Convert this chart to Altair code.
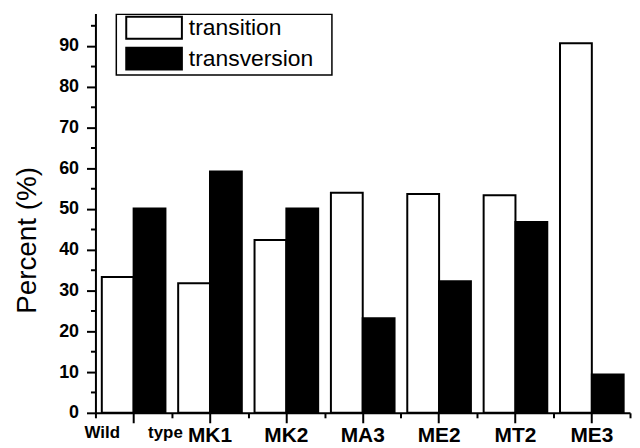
import altair as alt
import pandas as pd

strains = ["Wild type", "MK1", "MK2", "MA3", "ME2", "MT2", "ME3"]
series = ["transition", "transversion"]
transition = [33.3, 31.8, 42.4, 54.0, 53.7, 53.4, 90.7]
transversion = [50.1, 59.2, 50.1, 23.2, 32.3, 46.8, 9.4]
y_major = [0, 10, 20, 30, 40, 50, 60, 70, 80, 90]
y_minor = [5, 15, 25, 35, 45, 55, 65, 75, 85, 95]

rows = []
for i, s in enumerate(strains):
    rows.append({"strain": s, "type": "transition", "pct": transition[i]})
    rows.append({"strain": s, "type": "transversion", "pct": transversion[i]})
df = pd.DataFrame(rows)

FONT = "Liberation Sans"
NB = "\u00a0"
wild_label = "Wild" + NB * 6 + "type"
label_expr = f"datum.value == 'Wild type' ? '{wild_label}' : datum.label"

x_scale = alt.Scale(domain=strains, paddingInner=0, paddingOuter=0)
y_scale = alt.Scale(domain=[0, 98], nice=False, zero=True)

bars = alt.Chart(df).mark_bar(stroke="black", strokeWidth=2, opacity=1).encode(
    x=alt.X(
        "strain:N", scale=x_scale, sort=strains,
        axis=alt.Axis(
            title=None, orient="bottom", labelAngle=0, ticks=True, tickSize=10, tickWidth=2,
            tickColor="black", domain=True, domainWidth=2, domainColor="black",
            labelFont=FONT, labelFontWeight="bold", labelColor="black",
            labelFontSize={"condition": {"test": "datum.value == 'Wild type'", "value": 17}, "value": 21},
            labelPadding=2, labelExpr=label_expr, grid=False,
        ),
    ),
    xOffset=alt.XOffset("type:N", sort=series, scale=alt.Scale(paddingInner=0, paddingOuter=0.2)),
    y=alt.Y(
        "pct:Q", scale=y_scale, stack=None,
        axis=alt.Axis(
            title="Percent (%)", orient="left", values=y_major, ticks=True, tickSize=9, tickWidth=2,
            tickColor="black", domainWidth=2, domainColor="black",
            labelFont=FONT, labelFontWeight="bold", labelFontSize=18, labelColor="black",
            labelPadding=8, grid=False,
            titleFont=FONT, titleFontSize=28, titleFontWeight="normal", titleColor="black",
            titleX=-54, titleY=228,
        ),
    ),
    color=alt.Color(
        "type:N", sort=series,
        scale=alt.Scale(domain=series, range=["white", "black"]),
        legend=alt.Legend(
            title=None, orient="none", legendX=21, legendY=1,
            symbolType="M-0.318,-1L4.773,-1L4.773,1L-0.318,1Z", symbolSize=484,
            symbolStrokeColor="black", symbolStrokeWidth=2,
            labelFont=FONT, labelFontSize=23, labelColor="black", labelOffset=47.5,
            labelExpr="datum.label + '\u2800'", labelLimit=400,
            padding=1.5, rowPadding=1, strokeColor="black", fillColor="white",
        ),
    ),
)

minor = alt.Chart(df).mark_bar(opacity=0).encode(
    x=alt.X(
        "strain:N", scale=x_scale, sort=strains,
        axis=alt.Axis(title=None, orient="bottom", labels=False, domain=False, ticks=True,
                      tickBand="extent", tickSize=5, tickWidth=2, tickColor="black", grid=False),
    ),
    y=alt.Y(
        "pct:Q", scale=y_scale, stack=None,
        axis=alt.Axis(title=None, orient="left", values=y_minor, labels=False, domain=False,
                      ticks=True, tickSize=5, tickWidth=2, tickColor="black", grid=False),
    ),
)

chart = alt.layer(bars, minor).resolve_axis(x="independent", y="independent").properties(
    width=538, height=402,
    autosize=alt.AutoSizeParams(type="none"),
    padding={"left": 88, "top": 4, "right": 2, "bottom": 36},
).configure_view(stroke=None).configure_legend(strokeWidth=1.5)

chart.save("out.html", embed_options={"renderer": "svg", "actions": False})
